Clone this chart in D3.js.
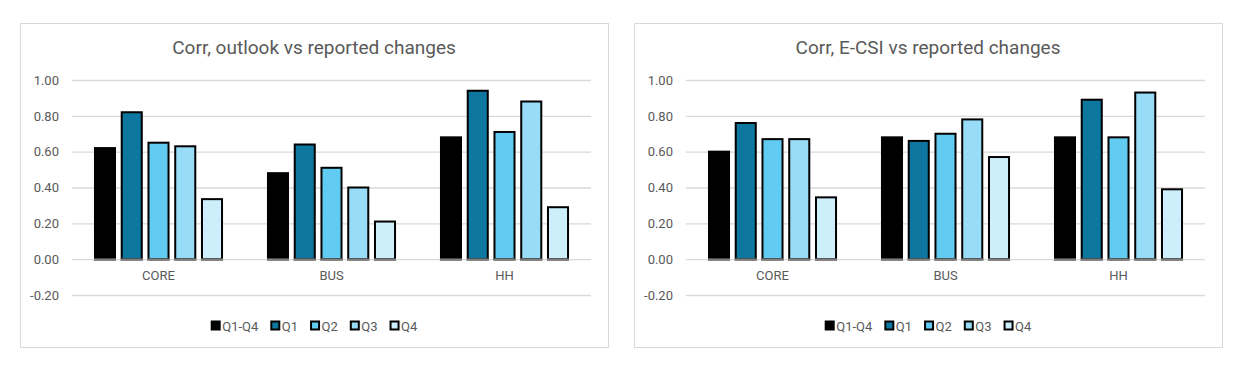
<!DOCTYPE html>
<html>
<head>
<meta charset="utf-8">
<script src="https://cdn.jsdelivr.net/npm/d3@7"></script>
<style>
  body { margin: 0; background: #fff; }
  text { font-family: Roboto, "Liberation Sans", sans-serif; }
</style>
</head>
<body>
<div id="chart"></div>
<script>
// data
const categories = ["CORE", "BUS", "HH"];
const seriesNames = ["Q1-Q4", "Q1", "Q2", "Q3", "Q4"];
const seriesColors = ["#000000", "#0e77a0", "#61cbf2", "#98dcf7", "#cdeefb"];
const yTicks = [-0.2, 0, 0.2, 0.4, 0.6, 0.8, 1.0];

// rows = series, columns = categories
const outlookValues = [
    [0.62, 0.48, 0.68],
    [0.82, 0.64, 0.94],
    [0.65, 0.51, 0.71],
    [0.63, 0.40, 0.88],
    [0.335, 0.21, 0.29]
];
const ecsiValues = [
    [0.60, 0.68, 0.68],
    [0.76, 0.66, 0.89],
    [0.67, 0.70, 0.68],
    [0.67, 0.78, 0.93],
    [0.345, 0.57, 0.39]
];

const svg = d3.select("#chart")
    .append("svg")
    .attr("width", 1250)
    .attr("height", 373);

function drawChart(left, title, values) {
    const box = { x: left, y: 23, w: 588, h: 324 };
    const plotLeft = left + 52;
    const plotRight = left + 571;

    const g = svg.append("g");

    g.append("rect")
        .attr("x", box.x + 0.5)
        .attr("y", box.y + 0.5)
        .attr("width", box.w)
        .attr("height", box.h)
        .attr("fill", "#fff")
        .attr("stroke", "#d9d9d9")
        .attr("stroke-width", 1);

    const y = d3.scaleLinear()
        .domain([-0.2, 1.0])
        .range([295, 80]);

    const x0 = d3.scaleBand()
        .domain(categories)
        .range([plotLeft, plotRight])
        .paddingInner(0.254)
        .paddingOuter(0.127);

    const x1 = d3.scaleBand()
        .domain(seriesNames)
        .range([0, x0.bandwidth()])
        .paddingInner(0.176);

    // gridlines + y labels
    const yAxis = g.append("g")
        .attr("transform", `translate(${plotLeft},0)`)
        .call(d3.axisLeft(y)
            .tickValues(yTicks)
            .tickSize(-(plotRight - plotLeft))
            .tickPadding(13)
            .tickFormat(d => d.toFixed(2)));
    yAxis.select(".domain").remove();
    yAxis.selectAll("line").attr("stroke", "#d9d9d9").attr("stroke-width", 1.3);
    yAxis.selectAll("text").attr("fill", "#595959").style("font-size", "13px");

    // bars
    const rows = [];
    seriesNames.forEach((s, i) => {
        categories.forEach((c, j) => {
            rows.push({ s, c, v: values[i][j], color: seriesColors[i] });
        });
    });

    g.selectAll(".bar")
        .data(rows)
        .enter()
        .append("rect")
        .attr("class", "bar")
        .attr("x", d => x0(d.c) + x1(d.s) + 1)
        .attr("y", d => y(d.v))
        .attr("width", x1.bandwidth() - 2)
        .attr("height", d => y(0) - y(d.v))
        .attr("fill", d => d.color)
        .attr("stroke", "#000")
        .attr("stroke-width", 2);

    // grey base under each bar
    g.selectAll(".base")
        .data(rows)
        .enter()
        .append("line")
        .attr("x1", d => x0(d.c) + x1(d.s))
        .attr("x2", d => x0(d.c) + x1(d.s) + x1.bandwidth())
        .attr("y1", y(0) + 0.5)
        .attr("y2", y(0) + 0.5)
        .attr("stroke", "#7f7f7f")
        .attr("stroke-width", 2.5);

    // category labels
    const xAxis = g.append("g")
        .attr("transform", `translate(0,${y(0)})`)
        .call(d3.axisBottom(x0).tickSize(0).tickPadding(12));
    xAxis.select(".domain").remove();
    xAxis.selectAll("text").attr("fill", "#595959").style("font-size", "13px");

    // title
    g.append("text")
        .attr("x", box.x + box.w / 2)
        .attr("y", 54)
        .attr("text-anchor", "middle")
        .attr("fill", "#595959")
        .style("font-size", "19px")
        .text(title);

    // legend
    const legend = g.append("g");
    let cx = 0;
    seriesNames.forEach((s, i) => {
        const item = legend.append("g").attr("transform", `translate(${cx},0)`);
        item.append("rect")
            .attr("x", 1).attr("y", -4.5)
            .attr("width", 8).attr("height", 8)
            .attr("fill", seriesColors[i])
            .attr("stroke", "#000")
            .attr("stroke-width", 2);
        const t = item.append("text")
            .attr("x", 11.5)
            .attr("y", 0)
            .attr("dy", "0.35em")
            .attr("fill", "#595959")
            .style("font-size", "13px")
            .text(s);
        cx += 11.5 + t.node().getComputedTextLength() + 12;
    });
    const legendWidth = cx - 12;
    legend.attr("transform", `translate(${box.x + box.w / 2 - legendWidth / 2},326)`);
}

drawChart(20, "Corr, outlook vs reported changes", outlookValues);
drawChart(634, "Corr, E-CSI vs reported changes", ecsiValues);
</script>
</body>
</html>
